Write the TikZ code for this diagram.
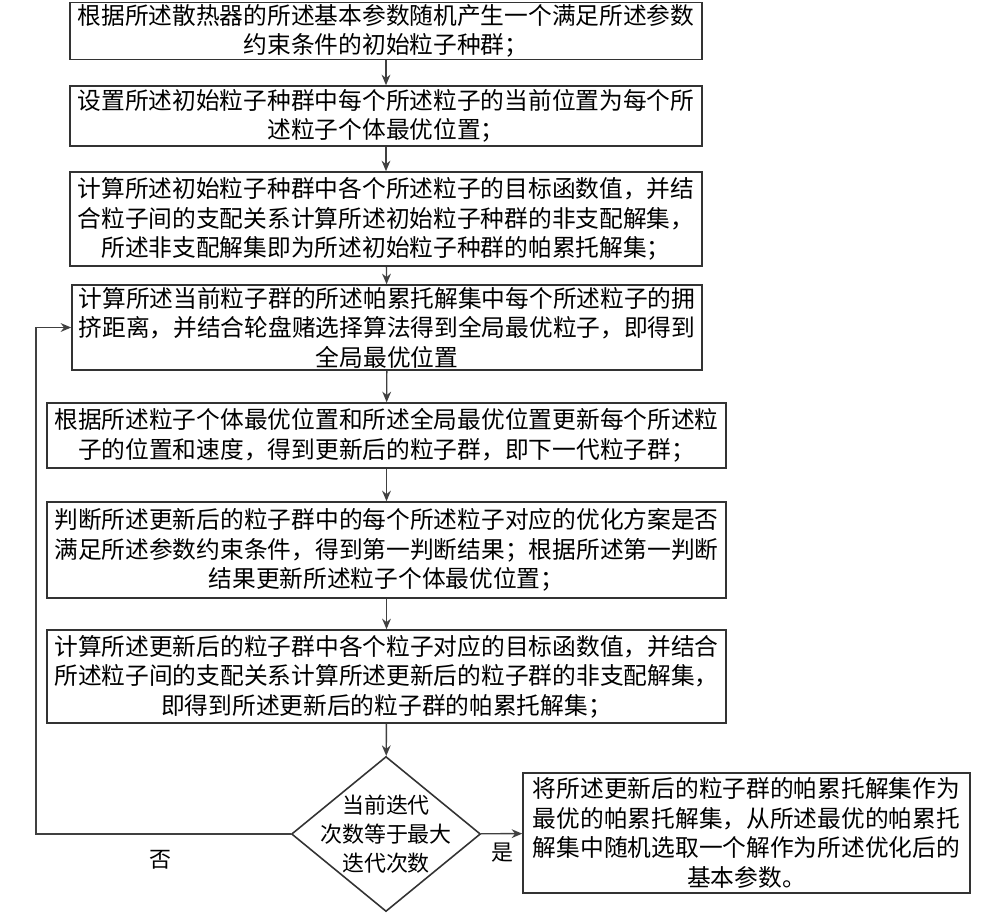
\documentclass[tikz,border=0pt]{standalone}
\usepackage{fontspec}
\setmainfont{Noto Sans CJK SC}
\usetikzlibrary{shapes.geometric, arrows.meta, positioning}

\tikzset{
  stepbox/.style={draw=black!80, line width=0.9pt, align=center, inner sep=1pt,
    font=\fontsize{13.5}{16.8}\selectfont},
  decision/.style={diamond, draw=black!80, line width=0.9pt, inner sep=0pt,
    minimum width=3.78cm, minimum height=3.1cm},
  arr/.style={-{Stealth[length=6pt, width=5pt]}, line width=0.8pt, black!75}
}

\begin{document}
\begin{tikzpicture}
        \useasboundingbox (0,0) rectangle (20.16,-18.32);
        \node[stepbox, minimum width=12.64cm, minimum height=1.12cm] (b1) at (7.72,-0.62)
            {根据所述散热器的所述基本参数随机产生一个满足所述参数\\约束条件的初始粒子种群；};
        \node[stepbox, minimum width=12.64cm, minimum height=1.2cm] (b2) at (7.72,-2.32)
            {设置所述初始粒子种群中每个所述粒子的当前位置为每个所\\述粒子个体最优位置；};
        \node[stepbox, minimum width=12.64cm, minimum height=1.88cm] (b3) at (7.72,-4.38)
            {计算所述初始粒子种群中各个所述粒子的目标函数值，并结\\合粒子间的支配关系计算所述初始粒子种群的非支配解集，\\所述非支配解集即为所述初始粒子种群的帕累托解集；};
        \node[stepbox, minimum width=12.6cm, minimum height=1.7cm] (b4) at (7.74,-6.55)
            {计算所述当前粒子群的所述帕累托解集中每个所述粒子的拥\\挤距离，并结合轮盘赌选择算法得到全局最优粒子，即得到\\全局最优位置};
        \node[stepbox, minimum width=13.58cm, minimum height=1.3cm] (b5) at (7.73,-8.71)
            {根据所述粒子个体最优位置和所述全局最优位置更新每个所述粒\\子的位置和速度，得到更新后的粒子群，即下一代粒子群；};
        \node[stepbox, minimum width=13.58cm, minimum height=1.92cm] (b6) at (7.73,-11.0)
            {判断所述更新后的粒子群中的每个所述粒子对应的优化方案是否\\满足所述参数约束条件，得到第一判断结果；根据所述第一判断\\结果更新所述粒子个体最优位置；};
        \node[stepbox, minimum width=13.58cm, minimum height=1.86cm] (b7) at (7.73,-13.53)
            {计算所述更新后的粒子群中各个粒子对应的目标函数值，并结合\\所述粒子间的支配关系计算所述更新后的粒子群的非支配解集，\\即得到所述更新后的粒子群的帕累托解集；};
        \node[decision, label={[align=center, font=\fontsize{12.5}{16.5}\selectfont]center:当前迭代\\次数等于最大\\迭代次数}] (d) at (7.72,-16.68) {};
        \node[stepbox, minimum width=8.94cm, minimum height=2.4cm] (b9) at (14.93,-16.66)
            {将所述更新后的粒子群的帕累托解集作为\\最优的帕累托解集，从所述最优的帕累托\\解集中随机选取一个解作为所述优化后的\\基本参数。};
        \draw[arr] (b1) -- (b2);
        \draw[arr] (b2) -- (b3);
        \draw[arr] (b3) -- (b4);
        \draw[arr] (b4) -- (b5);
        \draw[arr] (b5) -- (b6);
        \draw[arr] (b6) -- (b7);
        \draw[arr] (b7) -- (d);
        \draw[arr] (d) -- (b9);
        \coordinate (lp) at (0.72,-16.68);
        \draw[arr] (d.west) -- (lp) |- (b4.west);
        \node[font=\fontsize{12.5}{15}\selectfont] (no) at (3.2,-17.2) {否};
        \node[font=\fontsize{12.5}{15}\selectfont] (yes) at (10.04,-17.06) {是};
\end{tikzpicture}
\end{document}
